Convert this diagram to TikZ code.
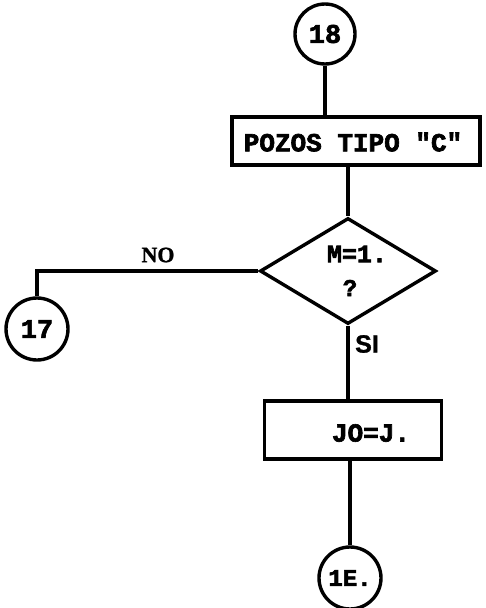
\documentclass[tikz,border=0pt]{standalone}
\usepackage{fontspec}
\usetikzlibrary{shapes.geometric}
\newfontfamily\monob[FakeBold=2.5]{Liberation Mono}
\newfontfamily\serifb[FakeBold=1]{Liberation Serif}
\newfontfamily\sansb[FakeBold=1]{Liberation Sans}
\begin{document}
\begin{tikzpicture}[x=1pt,y=-1pt,
  ln/.style={line width=3.4pt},
  conn/.style={circle,draw,line width=3.4pt,minimum size=60pt,inner sep=0pt,font=\monob\bfseries\fontsize{27}{27}\selectfont},
  procbox/.style={rectangle,draw,line width=3.4pt,inner sep=0pt},
  decis/.style={diamond,draw,line width=3.4pt,inner sep=0pt},
  lbl/.style={inner sep=0pt,font=\monob\bfseries\fontsize{26}{26}\selectfont}]
\useasboundingbox (0,0) rectangle (485,608);
\node[conn] (c18) at (325,34) {18};
\node[procbox,minimum width=248pt,minimum height=48pt] (box1) at (356,141) {};
\node[lbl] (t1) at (353,142) {POZOS TIPO "C"};
\node[decis,minimum width=176pt,minimum height=106pt] (dia) at (348,271) {};
\node[lbl,font=\monob\bfseries\fontsize{25}{25}\selectfont] (tm) at (357,254) {M=1.};
\node[lbl,font=\monob\bfseries\fontsize{24}{24}\selectfont] (tq) at (350,288) {?};
\node[conn,minimum size=62pt] (c17) at (37,329) {17};
\node[procbox,minimum width=177pt,minimum height=58pt] (box2) at (353,430) {};
\node[lbl] (t2) at (371,433) {JO=J.};
\node[conn,minimum size=62pt,font=\monob\bfseries\fontsize{24}{24}\selectfont] (c1E) at (350,578) {1E.};
\node[inner sep=0pt,font=\serifb\bfseries\fontsize{22}{22}\selectfont] (no) at (158,255) {NO};
\node[inner sep=0pt,font=\sansb\bfseries\fontsize{25}{25}\selectfont] (si) at (367,344) {SI};
\draw[ln] (c18) -- (c18 |- box1.north);
\draw[ln] (dia.north |- box1.south) -- (dia.north);
\draw[ln] (dia.west) -- (c17.north |- dia.west) -- (c17.north);
\draw[ln] (dia.south) -- (dia.south |- box2.north);
\draw[ln] (box2.south -| c1E.north) -- (c1E.north);
\end{tikzpicture}
\end{document}
